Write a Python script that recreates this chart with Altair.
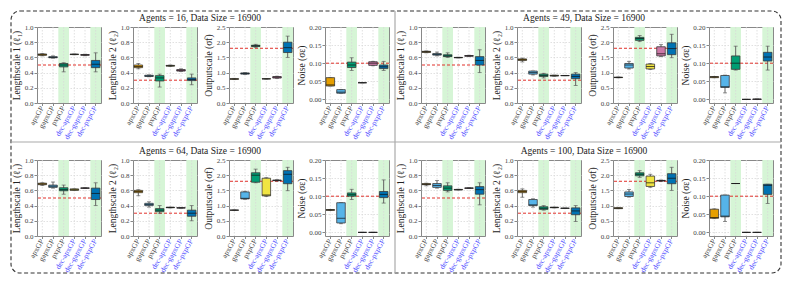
import altair as alt
import pandas as pd

# ---------------- data ----------------
CATEGORIES = ["apxGP", "gapxGP", "pxpGP", "dec-apxGP", "dec-gapxGP", "dec-pxpGP"]
COLORS = ["#E69F00", "#56B4E9", "#009E73", "#F0E442", "#CC79A7", "#0072B2"]
SHADED = ["pxpGP", "dec-pxpGP"]
AGENTS = [16, 49, 64, 100]
DATA_SIZE = 16900

PARAM_TITLES = ["Lengthscale 1 (ℓ₁)", "Lengthscale 2 (ℓ₂)", "Outputscale (σf)", "Noise (σε)"]
PARAM_TRUE = [0.5, 0.3, 1.8, 0.1]
PARAM_DOMAIN = [[0.0, 1.0], [0.0, 1.0], [0.0, 2.5], [-0.01, 0.2]]
PARAM_TICKS = [
    [0.0, 0.2, 0.4, 0.6, 0.8, 1.0],
    [0.0, 0.2, 0.4, 0.6, 0.8, 1.0],
    [0.0, 0.5, 1.0, 1.5, 2.0, 2.5],
    [0.0, 0.05, 0.10, 0.15, 0.20],
]
PARAM_FORMAT = [".1f", ".1f", ".1f", ".2f"]

# rows: (whisker low, q1, median, q3, whisker high), one per category
A16_L1 = [(0.62, 0.628, 0.635, 0.645, 0.65), (0.59, 0.595, 0.60, 0.61, 0.62), (0.41, 0.475, 0.50, 0.52, 0.53),
          (0.635, 0.637, 0.64, 0.643, 0.645), (0.622, 0.628, 0.632, 0.638, 0.642), (0.41, 0.465, 0.51, 0.56, 0.66)]
A16_L2 = [(0.45, 0.465, 0.48, 0.50, 0.52), (0.345, 0.35, 0.355, 0.365, 0.37), (0.21, 0.29, 0.33, 0.36, 0.38),
          (0.48, 0.485, 0.49, 0.495, 0.50), (0.415, 0.42, 0.43, 0.44, 0.45), (0.24, 0.295, 0.31, 0.33, 0.38)]
A16_OS = [(0.77, 0.78, 0.79, 0.80, 0.81), (0.94, 0.95, 0.97, 0.99, 1.0), (1.83, 1.86, 1.88, 1.90, 1.93),
          (0.785, 0.79, 0.795, 0.80, 0.805), (0.81, 0.82, 0.85, 0.87, 0.88), (1.50, 1.66, 1.82, 2.00, 2.20)]
A16_NS = [(0.037, 0.037, 0.04, 0.06, 0.06), (0.017, 0.017, 0.02, 0.027, 0.027), (0.08, 0.088, 0.095, 0.103, 0.115),
          (0.046, 0.046, 0.046, 0.046, 0.046), (0.093, 0.094, 0.10, 0.104, 0.105), (0.08, 0.085, 0.09, 0.095, 0.105)]

A49_L1 = [(0.66, 0.665, 0.675, 0.68, 0.685), (0.62, 0.63, 0.64, 0.65, 0.67), (0.60, 0.61, 0.62, 0.635, 0.66),
          (0.593, 0.595, 0.598, 0.60, 0.602), (0.612, 0.615, 0.62, 0.625, 0.628), (0.40, 0.50, 0.56, 0.61, 0.70)]
A49_L2 = [(0.54, 0.56, 0.57, 0.58, 0.59), (0.37, 0.38, 0.40, 0.42, 0.42), (0.33, 0.35, 0.36, 0.38, 0.39),
          (0.352, 0.355, 0.36, 0.365, 0.367), (0.36, 0.36, 0.36, 0.362, 0.363), (0.23, 0.32, 0.35, 0.38, 0.40)]
A49_OS = [(0.83, 0.835, 0.84, 0.85, 0.855), (1.12, 1.15, 1.25, 1.30, 1.37), (2.02, 2.06, 2.12, 2.16, 2.22),
          (1.10, 1.12, 1.20, 1.28, 1.30), (1.53, 1.55, 1.62, 1.85, 1.92), (1.49, 1.59, 1.79, 1.98, 2.26)]
A49_NS = [(0.06, 0.06, 0.062, 0.063, 0.063), (0.018, 0.033, 0.035, 0.066, 0.067), (0.081, 0.083, 0.10, 0.12, 0.147),
          (0.0, 0.0, 0.0, 0.0, 0.0), (0.0, 0.0, 0.0005, 0.001, 0.001), (0.081, 0.106, 0.117, 0.13, 0.147)]

A64_L1 = [(0.665, 0.675, 0.685, 0.695, 0.70), (0.63, 0.64, 0.655, 0.67, 0.71), (0.55, 0.595, 0.61, 0.635, 0.67),
          (0.60, 0.60, 0.61, 0.62, 0.62), (0.625, 0.628, 0.63, 0.633, 0.635), (0.40, 0.48, 0.56, 0.63, 0.70)]
A64_L2 = [(0.53, 0.57, 0.585, 0.60, 0.61), (0.38, 0.40, 0.415, 0.43, 0.45), (0.30, 0.32, 0.34, 0.36, 0.40),
          (0.37, 0.372, 0.375, 0.378, 0.38), (0.368, 0.368, 0.37, 0.372, 0.372), (0.20, 0.26, 0.30, 0.34, 0.40)]
A64_OS = [(0.845, 0.848, 0.85, 0.852, 0.855), (1.21, 1.22, 1.24, 1.45, 1.47), (1.75, 1.77, 2.0, 2.08, 2.20),
          (1.30, 1.32, 1.35, 1.90, 1.92), (1.81, 1.82, 1.83, 1.84, 1.85), (1.49, 1.72, 2.03, 2.15, 2.26)]
A64_NS = [(0.061, 0.061, 0.062, 0.063, 0.063), (0.024, 0.026, 0.039, 0.082, 0.082), (0.091, 0.10, 0.104, 0.109, 0.119),
          (0.0, 0.0, 0.0, 0.0, 0.0), (0.0, 0.0, 0.0, 0.0, 0.0), (0.081, 0.096, 0.105, 0.113, 0.145)]

A100_L1 = [(0.66, 0.675, 0.68, 0.69, 0.695), (0.63, 0.64, 0.665, 0.69, 0.73), (0.58, 0.60, 0.63, 0.66, 0.70),
           (0.605, 0.607, 0.61, 0.613, 0.615), (0.625, 0.627, 0.63, 0.633, 0.635), (0.41, 0.55, 0.61, 0.65, 0.70)]
A100_L2 = [(0.51, 0.57, 0.585, 0.60, 0.62), (0.38, 0.40, 0.41, 0.48, 0.49), (0.34, 0.35, 0.365, 0.385, 0.40),
           (0.37, 0.372, 0.375, 0.378, 0.38), (0.363, 0.364, 0.365, 0.366, 0.367), (0.19, 0.28, 0.33, 0.37, 0.40)]
A100_OS = [(0.90, 0.90, 0.915, 0.93, 0.93), (1.28, 1.30, 1.38, 1.45, 1.53), (1.93, 1.98, 2.03, 2.08, 2.15),
           (1.60, 1.63, 1.75, 1.97, 2.03), (1.80, 1.81, 1.82, 1.83, 1.84), (1.50, 1.72, 1.90, 2.05, 2.26)]
A100_NS = [(0.038, 0.039, 0.041, 0.064, 0.065), (0.03, 0.043, 0.045, 0.103, 0.103), (0.135, 0.135, 0.135, 0.135, 0.135),
           (0.0, 0.0, 0.0, 0.0, 0.0), (0.0, 0.0, 0.0, 0.0, 0.0), (0.08, 0.105, 0.13, 0.133, 0.133)]

PANELS = {
    16: [A16_L1, A16_L2, A16_OS, A16_NS],
    49: [A49_L1, A49_L2, A49_OS, A49_NS],
    64: [A64_L1, A64_L2, A64_OS, A64_NS],
    100: [A100_L1, A100_L2, A100_OS, A100_NS],
}

# ---------------- style / layout ----------------
FONT = "Liberation Serif"
W, H = 64, 76
COL_GAP, ROW_GAP = 32, 57
GREEN = "#d6f5d6"
RED = "#e0302a"
GRID = "#d9d9d9"
LABEL_COND = {"condition": {"test": "indexof(datum.value, 'dec-') === 0", "value": "#4d4dff"}, "value": "#444444"}


def make_subplot(stats, p, title_text=None, decorate=False):
    df = pd.DataFrame(stats, columns=["lo", "q1", "med", "q3", "hi"])
    df["cat"] = CATEGORIES
    dom = PARAM_DOMAIN[p]
    xs = alt.Scale(domain=CATEGORIES, paddingInner=0, paddingOuter=0)
    ys = alt.Scale(domain=dom, nice=False, zero=False)
    edge_test = f"abs(datum.value - {dom[1]}) < 1e-9 || abs(datum.value - {dom[0]}) < 1e-9"
    xaxis = alt.Axis(title=None, labelAngle=-60, grid=False, labelColor=LABEL_COND,
                     labelFontSize=7.5, labelPadding=1, tickSize=2.5)
    yaxis = alt.Axis(title=PARAM_TITLES[p], values=PARAM_TICKS[p], format=PARAM_FORMAT[p],
                     grid=True, labelPadding=1, titlePadding=2.5, tickSize=3, gridDash=[1.5, 1.5],
                     gridOpacity={"condition": {"test": edge_test, "value": 0}, "value": 1})
    X = lambda: alt.X("cat:N", scale=xs, sort=CATEGORIES, axis=xaxis)
    Y = lambda f: alt.Y(f, scale=ys, axis=yaxis)

    band_df = pd.DataFrame({"cat": SHADED, "lo": [dom[0]] * len(SHADED), "hi": [dom[1]] * len(SHADED)})
    band = alt.Chart(band_df).mark_rect(color=GREEN).encode(x=X(), y=Y("lo:Q"), y2="hi:Q")

    # vertical dotted grid lines at each category
    xgrid = alt.Chart(pd.DataFrame({"cat": CATEGORIES})).mark_rule(
        color=GRID, strokeWidth=0.8, strokeDash=[1.5, 1.5]).encode(x=X())

    ref = alt.Chart(pd.DataFrame({"v": [PARAM_TRUE[p]]})).mark_rule(
        color=RED, strokeDash=[3, 2], strokeWidth=1).encode(y=Y("v:Q"))

    base = alt.Chart(df)
    whisk = base.mark_rule(color="#555555", strokeWidth=0.9).encode(x=X(), y=Y("lo:Q"), y2="hi:Q")
    cap_lo = base.mark_tick(color="#555555", size=4, thickness=0.9).encode(x=X(), y=Y("lo:Q"))
    cap_hi = base.mark_tick(color="#555555", size=4, thickness=0.9).encode(x=X(), y=Y("hi:Q"))
    box = base.mark_bar(stroke="#3a3a3a", strokeWidth=0.8, width=alt.RelativeBandSize(0.8)).encode(
        x=X(), y=Y("q1:Q"), y2="q3:Q",
        color=alt.Color("cat:N", scale=alt.Scale(domain=CATEGORIES, range=COLORS), legend=None))
    med = base.mark_tick(color="#111111", size=W / 6 * 0.8, thickness=1).encode(x=X(), y=Y("med:Q"))

    layers = [band, xgrid, ref, whisk, cap_lo, cap_hi, box, med]

    if decorate:
        one = pd.DataFrame({"k": [0]})
        right = 7 * (W + COL_GAP) + W + 8
        bottom = 2 * H + ROW_GAP + 37
        frame = alt.Chart(one).mark_rect(fill="white", fillOpacity=0, stroke="#333333", strokeWidth=1.1,
                                         strokeDash=[4, 2.5], cornerRadius=9).encode(
            x=alt.value(-26), x2=alt.value(right), y=alt.value(-16), y2=alt.value(bottom))
        vdiv = alt.Chart(one).mark_rule(color="#aaaaaa", strokeWidth=1.2).encode(
            x=alt.value(3 * (W + COL_GAP) + W + 6), y=alt.value(-16), y2=alt.value(bottom))
        hdiv = alt.Chart(one).mark_rule(color="#aaaaaa", strokeWidth=1.2).encode(
            y=alt.value(H + 39), x=alt.value(-26), x2=alt.value(right))
        layers += [frame, vdiv, hdiv]

    ch = alt.layer(*layers).properties(width=W, height=H)
    if title_text:
        ch = ch.properties(title=alt.TitleParams(text=title_text, anchor="end", align="center", dx=3,
                                                 frame="group", offset=1))
    return ch


# grid: top row agents 16 | 49, bottom row 64 | 100
order = [[16, 49], [64, 100]]
subs = []
for row in order:
    for a in row:
        for p in range(4):
            t = f"Agents = {a}, Data Size = {DATA_SIZE}" if p == 1 else None
            subs.append(make_subplot(PANELS[a][p], p, title_text=t, decorate=(a == 16 and p == 0)))

chart = alt.concat(*subs, columns=8, spacing={"row": ROW_GAP, "column": COL_GAP}, bounds="flush").properties(
    padding={"left": 1, "top": 1, "right": 1, "bottom": 1}
).configure_view(
    stroke="#888888", strokeWidth=1
).configure_axis(
    labelFont=FONT, titleFont=FONT, labelFontSize=7, titleFontSize=9.5, labelColor="#444444",
    titleColor="#222222", titleFontWeight="normal", tickColor="#888888", domain=False,
    gridColor=GRID, gridWidth=0.8
).configure_title(
    font=FONT, fontSize=9.5, fontWeight="normal", color="#222222"
)

chart.save("out.html", embed_options={"renderer": "svg", "actions": False})
